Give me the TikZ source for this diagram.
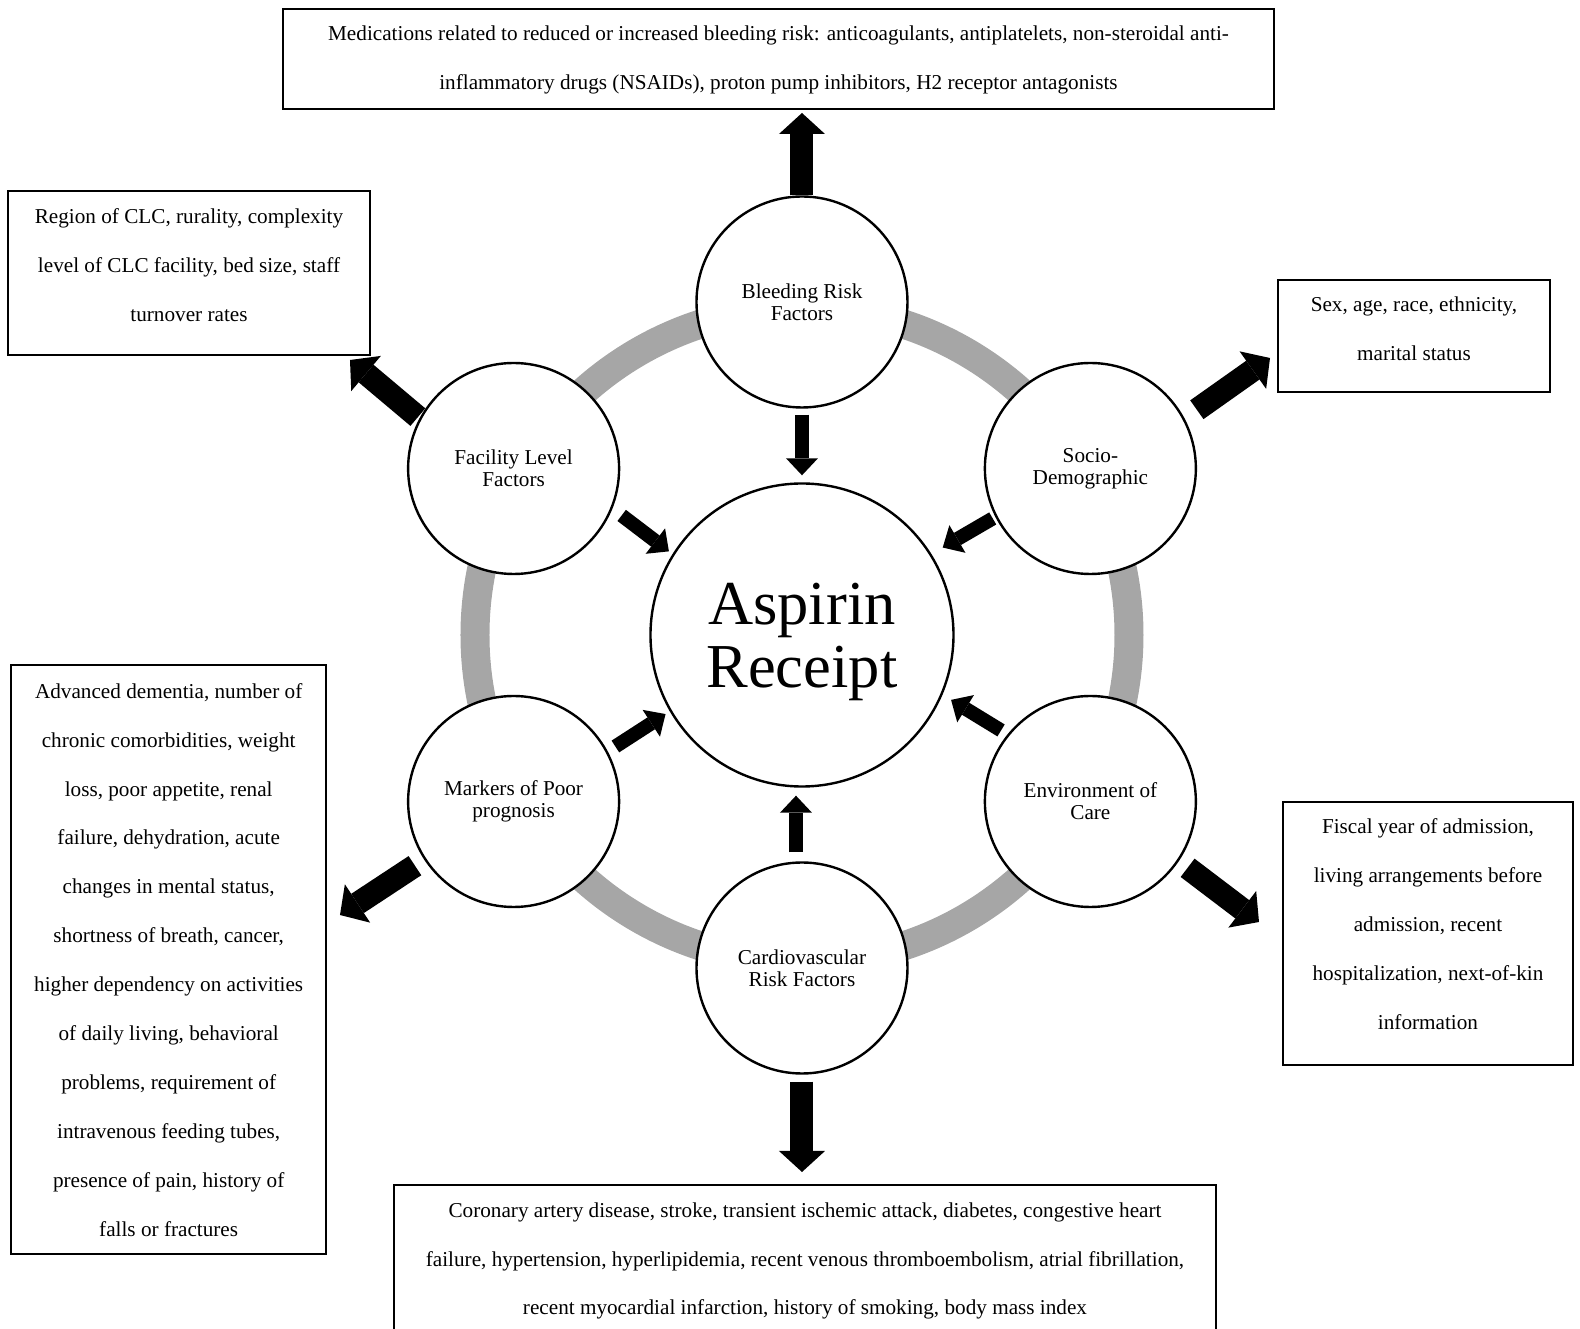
\documentclass[tikz,border=0pt]{standalone}
\usepackage{fontspec}
\setmainfont{Liberation Serif}
\usetikzlibrary{arrows.meta, positioning, calc}
\definecolor{ringgray}{HTML}{A6A6A6}

\begin{document}
\begin{tikzpicture}[
    x=1pt, y=1pt,
    factor/.style={
      circle, draw, line width=2.4pt, fill=white, minimum size=211pt,
      inner sep=0pt, align=center,
      font=\fontsize{21.2pt}{22.2pt}\selectfont
    },
    hub/.style={factor, minimum size=303pt},
    hubtext/.style={align=center, inner sep=0pt,
      font=\fontsize{62.5pt}{62.5pt}\selectfont},
    ring/.style={draw=ringgray, line width=29pt},
    infobox/.style={draw, line width=2pt, inner sep=0pt},
    infotext/.style={align=center, inner sep=0pt,
      font=\fontsize{21.2pt}{48.9pt}\selectfont},
    inarr/.style={-{Triangle[length=17pt, width=32pt, line width=0pt]},
      line width=14pt},
    outarr/.style={-{Triangle[length=21pt, width=46pt, line width=0pt]},
      line width=23pt}
  ]

  \useasboundingbox (-802,-694) rectangle (778,635);
  \clip (-802,-694) rectangle (778,635);

  % Anneau gris derriere les facteurs
  \draw[ring] (0,0) circle[radius=327];

  % Noeud central
  \node[hub] (asp) at (0,0) {};
  \node[hubtext] (asptext) at (0,-7) {Aspirin\\Receipt};

  % Facteurs autour du centre
  \node[factor] (bleed)   at (90:333)  {Bleeding Risk\\Factors};
  \node[factor] (socio)   at (30:333)  {Socio-\\Demographic};
  \node[factor] (env)     at (-30:333) {Environment of\\Care};
  \node[factor] (cardio)  at (-90:333) {Cardiovascular\\Risk Factors};
  \node[factor] (markers) at (210:333) {Markers of Poor\\prognosis};
  \node[factor] (facil)   at (150:333) {Facility Level\\Factors};

  % Cadres de details
  \node[infobox, minimum width=991pt, minimum height=100pt] (bleedbox) at (-23.5,576) {};
  \node[infotext] (bleedtext) at (-23.5,575.5)
    {Medications related to reduced or increased bleeding risk: anticoagulants, antiplatelets, non-steroidal anti-\\
     inflammatory drugs (NSAIDs), proton pump inhibitors, H2 receptor antagonists};

  \node[infobox, minimum width=362pt, minimum height=164pt] (facilbox) at (-613,362) {};
  \node[infotext] (faciltext) at (-613,370)
    {Region of CLC, rurality, complexity\\level of CLC facility, bed size, staff\\turnover rates};

  \node[infobox, minimum width=272pt, minimum height=112pt] (sociobox) at (612,299) {};
  \node[infotext] (sociotext) at (612,306.5)
    {Sex, age, race, ethnicity,\\marital status};

  \node[infobox, minimum width=315pt, minimum height=589pt] (markbox) at (-633.3,-324.5) {};
  \node[infotext] (marktext) at (-633.3,-324.8)
    {Advanced dementia, number of\\chronic comorbidities, weight\\loss, poor appetite, renal\\
     failure, dehydration, acute\\changes in mental status,\\shortness of breath, cancer,\\
     higher dependency on activities\\of daily living, behavioral\\problems, requirement of\\
     intravenous feeding tubes,\\presence of pain, history of\\falls or fractures};

  \node[infobox, minimum width=290pt, minimum height=263pt] (envbox) at (626,-298.5) {};
  \node[infotext] (envtext) at (626,-289)
    {Fiscal year of admission,\\living arrangements before\\admission, recent\\
     hospitalization, next-of-kin\\information};

  \node[infobox, minimum width=822pt, minimum height=250pt] (cardbox) at (3,-675) {};
  \node[infotext] (cardtext) at (3,-626)
    {Coronary artery disease, stroke, transient ischemic attack, diabetes, congestive heart\\
     failure, hypertension, hyperlipidemia, recent venous thromboembolism, atrial fibrillation,\\
     recent myocardial infarction, history of smoking, body mass index};

  % Fleches vers le centre
  \draw[inarr, shorten <=6pt, shorten >=7pt]    (bleed.south)  -- (asp.north);
  \draw[inarr, shorten <=3pt, shorten >=13pt]   (socio.207)    -- (asp.32);
  \draw[inarr, shorten <=7.5pt, shorten >=10pt] (env.141)      -- (asp.-23);
  \draw[inarr, shorten <=9pt, shorten >=8pt]
    ([xshift=-6pt]cardio.north) -- ([xshift=-6pt]cardio.north |- asp.south);
  \draw[inarr, shorten <=9pt, shorten >=5pt]    (markers.28)   -- (asp.210);
  \draw[inarr, shorten <=11.5pt, shorten >=4.5pt] (facil.-22)  -- (asp.148);

  % Pointes des fleches exterieures
  \coordinate (sociotip) at (468,277);
  \coordinate (envtip)   at (457,-287);
  \coordinate (marktip)  at (-462,-280);
  \coordinate (faciltip) at (-452,275);

  % Fleches vers les cadres
  \draw[outarr, shorten >=3pt]  (bleed.north)  -- (bleed.north |- bleedbox.south);
  \draw[outarr, shorten <=15pt] (socio.28.5)   -- (sociotip);
  \draw[outarr, shorten <=11pt] (env.-34)      -- (envtip);
  \draw[outarr, shorten <=7pt, shorten >=12pt] (cardio.south) -- (cardio.south |- cardbox.north);
  \draw[outarr, shorten <=11pt] (markers.213)  -- (marktip);
  \draw[outarr, shorten <=2pt]  (facil.152)    -- (faciltip);

\end{tikzpicture}
\end{document}
